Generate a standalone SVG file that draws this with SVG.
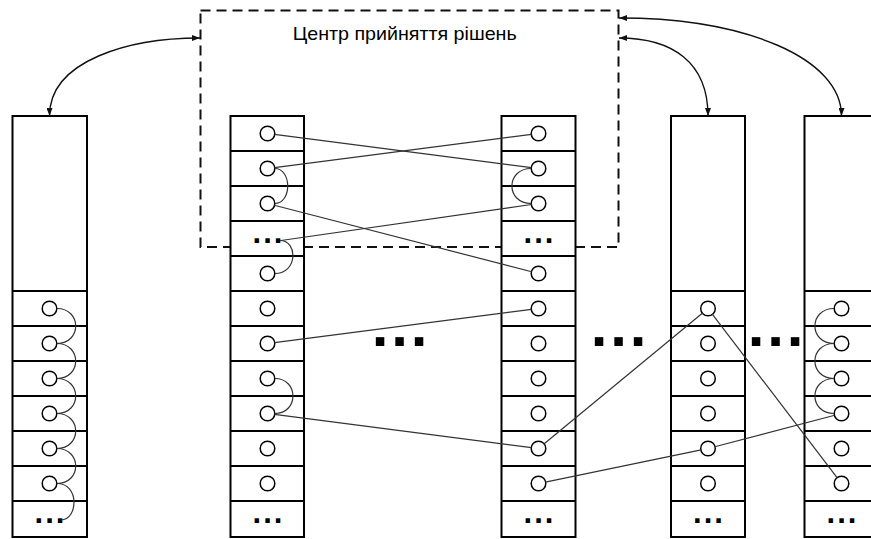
<svg xmlns="http://www.w3.org/2000/svg" width="871" height="539" viewBox="0 0 871 539">
  <style>
    .col { fill: #fff; stroke: #000; stroke-width: 2; }
    .sep { stroke: #000; stroke-width: 2; }
    .cell { fill: #fff; stroke: #000; stroke-width: 1.5; }
    .dots { font-family: "Liberation Sans", Arial, sans-serif; font-weight: bold; font-size: 31px; letter-spacing: 2.1px; fill: #000; }
    .bigdots { font-family: "Liberation Sans", Arial, sans-serif; font-weight: bold; font-size: 60px; letter-spacing: 2.8px; fill: #000; }
    .link { fill: none; stroke: #333; stroke-width: 1.2; }
    .arc { fill: none; stroke: #333; stroke-width: 1.2; }
    .flow { fill: none; stroke: #111; stroke-width: 1.4; marker-start: url(#head); marker-end: url(#head); }
    .frame { fill: none; stroke: #111; stroke-width: 2; stroke-dasharray: 10 6; }
    .title { font-family: "Liberation Sans", Arial, sans-serif; font-size: 18.5px; fill: #000; }
  </style>
  <defs>
    <marker id="head" viewBox="0 0 8 6" refX="8" refY="3" markerWidth="8" markerHeight="6" orient="auto-start-reverse" markerUnits="userSpaceOnUse">
      <path d="M0,0 L8,3 L0,6 z" fill="#111"/>
    </marker>
  </defs>

  <rect width="871" height="539" fill="#fff"/>

  <!-- decision centre frame -->
  <g id="decision-centre">
    <rect class="frame" x="200.5" y="10.5" width="418" height="236.5"/>
    <text class="title" x="292.7" y="40" textLength="224" lengthAdjust="spacingAndGlyphs">Центр прийняття рішень</text>
  </g>

  <!-- column 1 -->
  <g id="col-1">
    <rect class="col" x="12.5" y="116" width="74.5" height="421"/>
    <path class="sep" d="M12.5,291H87M12.5,326H87M12.5,361H87M12.5,396H87M12.5,431H87M12.5,466H87M12.5,501H87"/>
    <circle class="cell" cx="49.5" cy="308.5" r="7.3"/>
    <circle class="cell" cx="49.5" cy="343.5" r="7.3"/>
    <circle class="cell" cx="49.5" cy="378.5" r="7.3"/>
    <circle class="cell" cx="49.5" cy="413.5" r="7.3"/>
    <circle class="cell" cx="49.5" cy="448.5" r="7.3"/>
    <circle class="cell" cx="49.5" cy="483.5" r="7.3"/>
    <text class="dots" x="34.45" y="523.2">...</text>
  </g>

  <!-- column 2 -->
  <g id="col-2">
    <rect class="col" x="230.5" y="116" width="73.5" height="421"/>
    <path class="sep" d="M230.5,151H304M230.5,186H304M230.5,221H304M230.5,256H304M230.5,291H304M230.5,326H304M230.5,361H304M230.5,396H304M230.5,431H304M230.5,466H304M230.5,501H304"/>
    <circle class="cell" cx="267.5" cy="133.5" r="7.3"/>
    <circle class="cell" cx="267.5" cy="168.5" r="7.3"/>
    <circle class="cell" cx="267.5" cy="203.5" r="7.3"/>
    <text class="dots" x="252.45" y="242.7">...</text>
    <circle class="cell" cx="267.5" cy="273.5" r="7.3"/>
    <circle class="cell" cx="267.5" cy="308.5" r="7.3"/>
    <circle class="cell" cx="267.5" cy="343.5" r="7.3"/>
    <circle class="cell" cx="267.5" cy="378.5" r="7.3"/>
    <circle class="cell" cx="267.5" cy="413.5" r="7.3"/>
    <circle class="cell" cx="267.5" cy="448.5" r="7.3"/>
    <circle class="cell" cx="267.5" cy="483.5" r="7.3"/>
    <text class="dots" x="252.45" y="523.2">...</text>
  </g>

  <!-- column 3 -->
  <g id="col-3">
    <rect class="col" x="501.5" y="116" width="74" height="421"/>
    <path class="sep" d="M501.5,151H575.5M501.5,186H575.5M501.5,221H575.5M501.5,256H575.5M501.5,291H575.5M501.5,326H575.5M501.5,361H575.5M501.5,396H575.5M501.5,431H575.5M501.5,466H575.5M501.5,501H575.5"/>
    <circle class="cell" cx="538.5" cy="133.5" r="7.3"/>
    <circle class="cell" cx="538.5" cy="168.5" r="7.3"/>
    <circle class="cell" cx="538.5" cy="203.5" r="7.3"/>
    <text class="dots" x="523.45" y="242.7">...</text>
    <circle class="cell" cx="538.5" cy="273.5" r="7.3"/>
    <circle class="cell" cx="538.5" cy="308.5" r="7.3"/>
    <circle class="cell" cx="538.5" cy="343.5" r="7.3"/>
    <circle class="cell" cx="538.5" cy="378.5" r="7.3"/>
    <circle class="cell" cx="538.5" cy="413.5" r="7.3"/>
    <circle class="cell" cx="538.5" cy="448.5" r="7.3"/>
    <circle class="cell" cx="538.5" cy="483.5" r="7.3"/>
    <text class="dots" x="523.45" y="523.2">...</text>
  </g>

  <!-- column 4 -->
  <g id="col-4">
    <rect class="col" x="671" y="116" width="74" height="421"/>
    <path class="sep" d="M671,291H745M671,326H745M671,361H745M671,396H745M671,431H745M671,466H745M671,501H745"/>
    <circle class="cell" cx="708" cy="308.5" r="7.3"/>
    <circle class="cell" cx="708" cy="343.5" r="7.3"/>
    <circle class="cell" cx="708" cy="378.5" r="7.3"/>
    <circle class="cell" cx="708" cy="413.5" r="7.3"/>
    <circle class="cell" cx="708" cy="448.5" r="7.3"/>
    <circle class="cell" cx="708" cy="483.5" r="7.3"/>
    <text class="dots" x="692.95" y="523.2">...</text>
  </g>

  <!-- column 5 (runs past the right edge) -->
  <g id="col-5">
    <rect class="col" x="804.5" y="116" width="74" height="421"/>
    <path class="sep" d="M804.5,291H878.5M804.5,326H878.5M804.5,361H878.5M804.5,396H878.5M804.5,431H878.5M804.5,466H878.5M804.5,501H878.5"/>
    <circle class="cell" cx="841.5" cy="308.5" r="7.3"/>
    <circle class="cell" cx="841.5" cy="343.5" r="7.3"/>
    <circle class="cell" cx="841.5" cy="378.5" r="7.3"/>
    <circle class="cell" cx="841.5" cy="413.5" r="7.3"/>
    <circle class="cell" cx="841.5" cy="448.5" r="7.3"/>
    <circle class="cell" cx="841.5" cy="483.5" r="7.3"/>
    <text class="dots" x="826.45" y="523.2">...</text>
  </g>

  <!-- gaps between columns -->
  <g id="gaps">
    <text class="bigdots" x="371.8" y="345.5">...</text>
    <text class="bigdots" x="590.8" y="345.5">...</text>
    <text class="bigdots" x="747.8" y="346">...</text>
  </g>

  <!-- connectors -->
  <g id="connectors">
    <!-- exchange with the decision centre -->
    <path class="flow" d="M200,38 C130,38 49.5,60 49.5,116"/>
    <path class="flow" d="M619,38 C672,38 708,62 708,116"/>
    <path class="flow" d="M619,18 C745,18 841.5,58 841.5,116"/>

    <!-- links between cells of different columns -->
    <line class="link" x1="274.44" y1="134.4" x2="531.56" y2="167.6"/>
    <line class="link" x1="274.44" y1="167.6" x2="531.56" y2="134.4"/>
    <line class="link" x1="274.28" y1="205.25" x2="531.72" y2="271.75"/>
    <line class="link" x1="281" y1="240.5" x2="531.57" y2="204.48"/>
    <line class="link" x1="274.44" y1="342.6" x2="531.56" y2="309.4"/>
    <line class="link" x1="274.44" y1="414.4" x2="531.56" y2="447.6"/>
    <line class="link" x1="543.9" y1="444.04" x2="702.6" y2="312.96"/>
    <line class="link" x1="712.25" y1="314.07" x2="837.25" y2="477.93"/>
    <line class="link" x1="545.36" y1="482.08" x2="701.14" y2="449.92"/>
    <line class="link" x1="714.77" y1="446.72" x2="834.73" y2="415.28"/>

    <!-- chains inside column 1 -->
    <path class="arc" d="M56.8,308.5 C82,308.5 82,343.5 56.8,343.5"/>
    <path class="arc" d="M56.8,343.5 C82,343.5 82,378.5 56.8,378.5"/>
    <path class="arc" d="M56.8,378.5 C82,378.5 82,413.5 56.8,413.5"/>
    <path class="arc" d="M56.8,413.5 C82,413.5 82,448.5 56.8,448.5"/>
    <path class="arc" d="M56.8,448.5 C82,448.5 82,483.5 56.8,483.5"/>
    <path class="arc" d="M56.8,483.5 C80,483.5 78,520 61,520"/>

    <!-- chains inside column 2 -->
    <path class="arc" d="M274.8,168.5 C292,168.5 292,203.5 274.8,203.5"/>
    <path class="arc" d="M280,240.5 C298,240.5 298,273.5 274.8,273.5"/>
    <path class="arc" d="M274.8,378.5 C299,378.5 299,413.5 274.8,413.5"/>

    <!-- chain inside column 3 -->
    <path class="arc" d="M531.2,168.5 C505.5,168.5 505.5,203.5 531.2,203.5"/>

    <!-- chains inside column 5 -->
    <path class="arc" d="M834.2,308.5 C808.5,308.5 808.5,343.5 834.2,343.5"/>
    <path class="arc" d="M834.2,343.5 C808.5,343.5 808.5,378.5 834.2,378.5"/>
    <path class="arc" d="M834.2,378.5 C808.5,378.5 808.5,413.5 834.2,413.5"/>
  </g>
</svg>
